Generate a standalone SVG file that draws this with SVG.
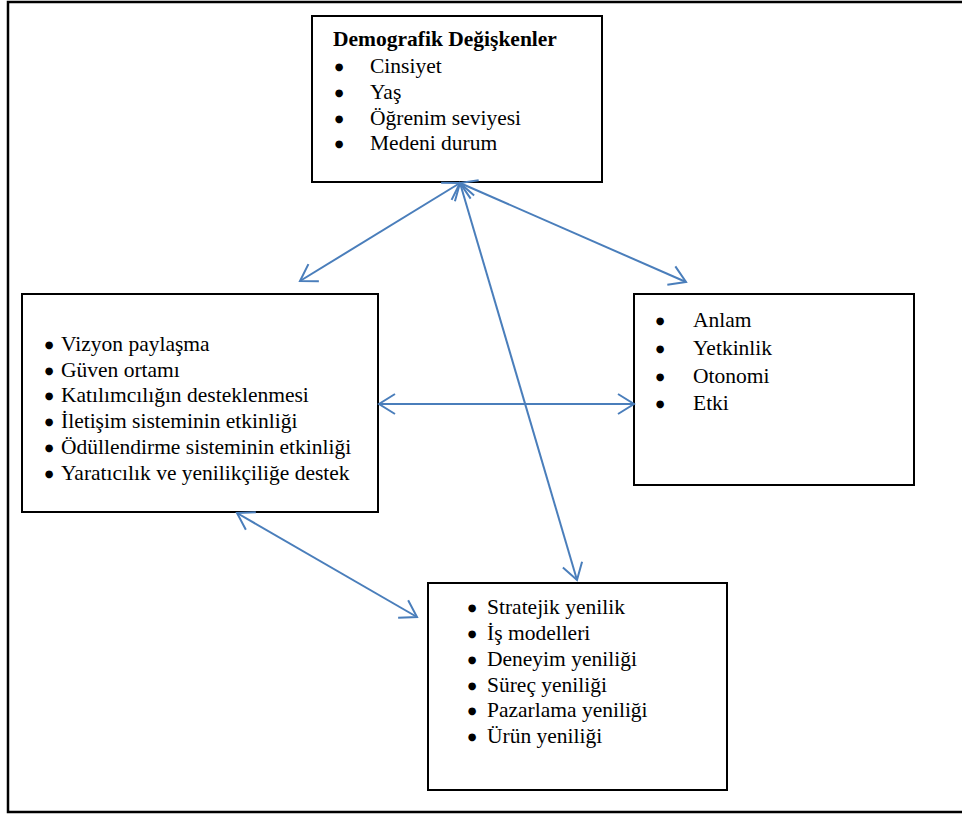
<svg xmlns="http://www.w3.org/2000/svg" width="962" height="814" viewBox="0 0 962 814">
<style>
.box{fill:#fff;stroke:#000;stroke-width:2}
.t{font-family:"Liberation Serif","Times New Roman",serif;font-size:21.5px;fill:#000}
.b{font-weight:bold}
.bul{font-family:"DejaVu Sans",sans-serif;font-size:10px;fill:#000;text-anchor:middle}
.con{stroke:#4a7ebb;stroke-width:2;fill:none;marker-start:url(#ah);marker-end:url(#ah)}
</style>
<defs>
<marker id="ah" viewBox="0 0 20 24" refX="18" refY="12" markerWidth="20" markerHeight="24" markerUnits="userSpaceOnUse" orient="auto-start-reverse">
<path d="M2,2 L18,12 L2,22" fill="none" stroke="#4a7ebb" stroke-width="2"/>
</marker>
</defs>
<rect x="0" y="0" width="962" height="814" fill="#fff"/>
<rect x="8" y="2" width="970" height="810" fill="none" stroke="#000" stroke-width="2.5"/>
<g id="node-demografik">
<rect class="box" x="312" y="16" width="290" height="166"/>
<text class="t b" x="333" y="46">Demografik Değişkenler</text>
<text class="bul" x="339" y="70">●</text><text class="t" x="370" y="73">Cinsiyet</text>
<text class="bul" x="339" y="96">●</text><text class="t" x="370" y="99">Yaş</text>
<text class="bul" x="339" y="122">●</text><text class="t" x="370" y="125">Öğrenim seviyesi</text>
<text class="bul" x="339" y="147">●</text><text class="t" x="370" y="150">Medeni durum</text>
</g>
<g id="node-iklim">
<rect class="box" x="22" y="294" width="356" height="218"/>
<text class="bul" x="49" y="348">●</text><text class="t" x="61" y="351">Vizyon paylaşma</text>
<text class="bul" x="49" y="374">●</text><text class="t" x="61" y="377">Güven ortamı</text>
<text class="bul" x="49" y="399">●</text><text class="t" x="61" y="402">Katılımcılığın desteklenmesi</text>
<text class="bul" x="49" y="425">●</text><text class="t" x="61" y="428">İletişim sisteminin etkinliği</text>
<text class="bul" x="49" y="451">●</text><text class="t" x="61" y="454">Ödüllendirme sisteminin etkinliği</text>
<text class="bul" x="49" y="477">●</text><text class="t" x="61" y="480">Yaratıcılık ve yenilikçiliğe destek</text>
</g>
<g id="node-guclendirme">
<rect class="box" x="634" y="294" width="280" height="191"/>
<text class="bul" x="660" y="324">●</text><text class="t" x="693" y="327">Anlam</text>
<text class="bul" x="660" y="352">●</text><text class="t" x="693" y="355">Yetkinlik</text>
<text class="bul" x="660" y="380">●</text><text class="t" x="693" y="383">Otonomi</text>
<text class="bul" x="660" y="407">●</text><text class="t" x="693" y="410">Etki</text>
</g>
<g id="node-yenilik">
<rect class="box" x="428" y="583" width="299" height="207"/>
<text class="bul" x="472" y="611">●</text><text class="t" x="487" y="614">Stratejik yenilik</text>
<text class="bul" x="472" y="637">●</text><text class="t" x="487" y="640">İş modelleri</text>
<text class="bul" x="472" y="663">●</text><text class="t" x="487" y="666">Deneyim yeniliği</text>
<text class="bul" x="472" y="689">●</text><text class="t" x="487" y="692">Süreç yeniliği</text>
<text class="bul" x="472" y="714">●</text><text class="t" x="487" y="717">Pazarlama yeniliği</text>
<text class="bul" x="472" y="740">●</text><text class="t" x="487" y="743">Ürün yeniliği</text>
</g>
<g id="connectors">
<line class="con" x1="460" y1="183" x2="300" y2="281"/>
<line class="con" x1="460" y1="183" x2="686" y2="282"/>
<line class="con" x1="460" y1="183" x2="577" y2="580"/>
<line class="con" x1="379" y1="404" x2="634" y2="404"/>
<line class="con" x1="237" y1="513" x2="417" y2="617"/>
</g>
</svg>
